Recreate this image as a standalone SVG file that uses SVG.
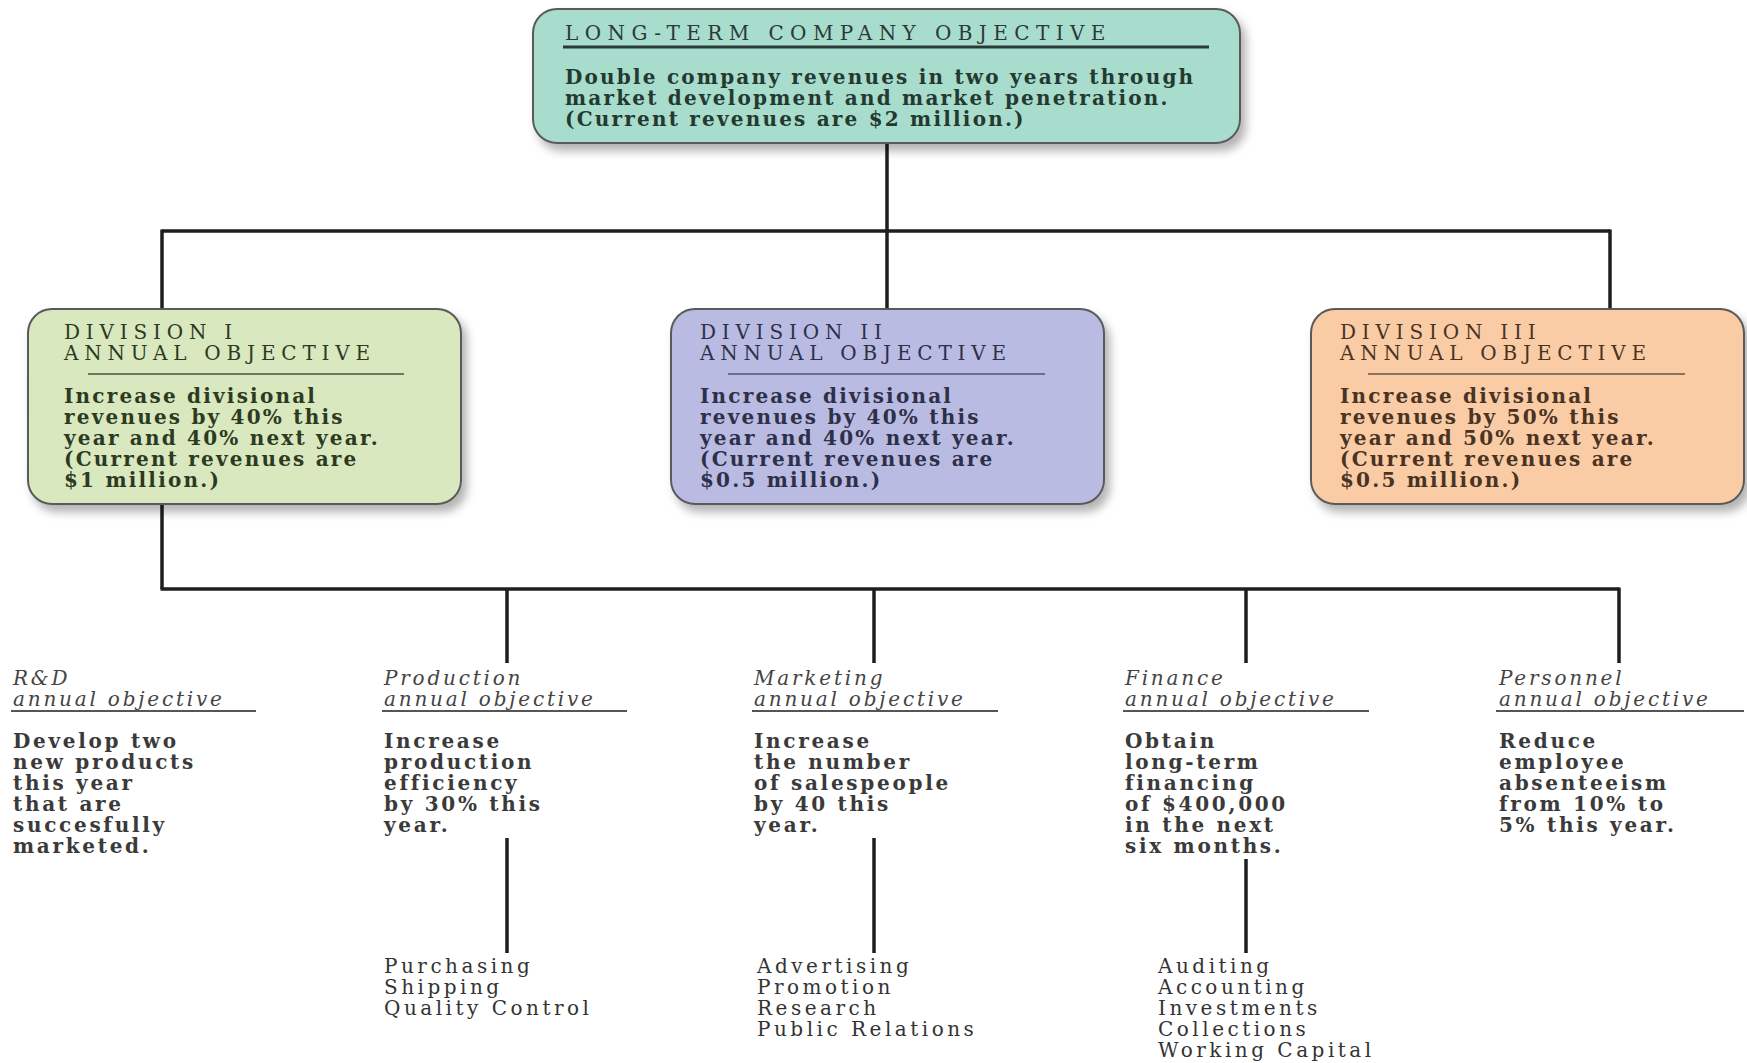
<svg xmlns="http://www.w3.org/2000/svg" width="1747" height="1063" viewBox="0 0 1747 1063">
<defs>
<filter id="sh" x="-10%" y="-10%" width="125%" height="135%">
<feDropShadow dx="5" dy="7" stdDeviation="5" flood-color="#000" flood-opacity="0.3"/>
</filter>
<style>
.box{stroke:#5a5a5a;stroke-width:2}
.hd{font-family:"DejaVu Serif","Liberation Serif",serif;font-size:20px;letter-spacing:5.8px}
.bd{font-family:"DejaVu Serif","Liberation Serif",serif;font-size:20px;font-weight:bold;letter-spacing:2.2px}
.it{font-family:"DejaVu Serif","Liberation Serif",serif;font-size:20px;font-style:italic;letter-spacing:2.8px;fill:#444}
.fb{font-family:"DejaVu Serif","Liberation Serif",serif;font-size:20px;font-weight:bold;letter-spacing:2.7px;fill:#3a3a3a}
.sl{font-family:"DejaVu Serif","Liberation Serif",serif;font-size:20px;letter-spacing:3.5px;fill:#333}
.ul{stroke-width:2}
.cn{stroke:#1e1e1e;stroke-width:3.5;fill:none}
</style>
</defs>
<rect width="1747" height="1063" fill="#ffffff"/>

<g id="connectors">
<line class="cn" x1="887" y1="143" x2="887" y2="231"/>
<line class="cn" x1="162" y1="231" x2="1610" y2="231"/>
<line class="cn" x1="162" y1="229.5" x2="162" y2="309"/>
<line class="cn" x1="887" y1="231" x2="887" y2="309"/>
<line class="cn" x1="1610" y1="229.5" x2="1610" y2="309"/>
<line class="cn" x1="162" y1="504" x2="162" y2="589"/>
<line class="cn" x1="160.5" y1="589" x2="1619" y2="589"/>
<line class="cn" x1="507" y1="589" x2="507" y2="663"/>
<line class="cn" x1="874" y1="589" x2="874" y2="663"/>
<line class="cn" x1="1246" y1="589" x2="1246" y2="663"/>
<line class="cn" x1="1619" y1="587.5" x2="1619" y2="663"/>
<line class="cn" x1="507" y1="838" x2="507" y2="953"/>
<line class="cn" x1="874" y1="838" x2="874" y2="953"/>
<line class="cn" x1="1246" y1="859" x2="1246" y2="953"/>
</g>

<g id="long-term">
<rect class="box" x="533" y="9" width="707" height="134" rx="24" fill="#a8dccd" filter="url(#sh)"/>
<text class="hd" x="565" y="40" fill="#2a3a36" style="letter-spacing:6.4px">LONG-TERM COMPANY OBJECTIVE</text>
<line x1="563" y1="47" x2="1209" y2="47" stroke="#2a3a36" stroke-width="3"/>
<g class="bd" fill="#24392f">
<text x="565" y="84">Double company revenues in two years through</text>
<text x="565" y="105">market development and market penetration.</text>
<text x="565" y="126">(Current revenues are $2 million.)</text>
</g>
</g>

<g id="division-1">
<rect class="box" x="28" y="309" width="433" height="195" rx="24" fill="#d9e8bf" filter="url(#sh)"/>
<text class="hd" x="64" y="339" fill="#2c3a22">DIVISION  I</text>
<text class="hd" x="64" y="360" fill="#2c3a22">ANNUAL OBJECTIVE</text>
<line class="ul" x1="88" y1="374" x2="404" y2="374" stroke="#6d7a60"/>
<g class="bd" fill="#2c3a22">
<text x="64" y="403">Increase divisional</text>
<text x="64" y="424">revenues by 40% this</text>
<text x="64" y="445">year and 40% next year.</text>
<text x="64" y="466">(Current revenues are</text>
<text x="64" y="487">$1 million.)</text>
</g>
</g>

<g id="division-2">
<rect class="box" x="671" y="309" width="433" height="195" rx="24" fill="#b9bbe2" filter="url(#sh)"/>
<text class="hd" x="700" y="339" fill="#2e2f48">DIVISION  II</text>
<text class="hd" x="700" y="360" fill="#2e2f48">ANNUAL OBJECTIVE</text>
<line class="ul" x1="728" y1="374" x2="1045" y2="374" stroke="#6a6c8c"/>
<g class="bd" fill="#2e2f48">
<text x="700" y="403">Increase divisional</text>
<text x="700" y="424">revenues by 40% this</text>
<text x="700" y="445">year and 40% next year.</text>
<text x="700" y="466">(Current revenues are</text>
<text x="700" y="487">$0.5 million.)</text>
</g>
</g>

<g id="division-3">
<rect class="box" x="1311" y="309" width="433" height="195" rx="24" fill="#f9cca6" filter="url(#sh)"/>
<text class="hd" x="1340" y="339" fill="#4a3322">DIVISION  III</text>
<text class="hd" x="1340" y="360" fill="#4a3322">ANNUAL OBJECTIVE</text>
<line class="ul" x1="1368" y1="374" x2="1685" y2="374" stroke="#8a7260"/>
<g class="bd" fill="#4a3322">
<text x="1340" y="403">Increase divisional</text>
<text x="1340" y="424">revenues by 50% this</text>
<text x="1340" y="445">year and 50% next year.</text>
<text x="1340" y="466">(Current revenues are</text>
<text x="1340" y="487">$0.5 million.)</text>
</g>
</g>

<g id="rd">
<text class="it" x="13" y="685">R&amp;D</text>
<text class="it" x="13" y="706">annual objective</text>
<line class="ul" x1="11" y1="711" x2="256" y2="711" stroke="#555"/>
<g class="fb">
<text x="13" y="748">Develop two</text>
<text x="13" y="769">new products</text>
<text x="13" y="790">this year</text>
<text x="13" y="811">that are</text>
<text x="13" y="832">succesfully</text>
<text x="13" y="853">marketed.</text>
</g>
</g>

<g id="production">
<text class="it" x="384" y="685">Production</text>
<text class="it" x="384" y="706">annual objective</text>
<line class="ul" x1="382" y1="711" x2="627" y2="711" stroke="#555"/>
<g class="fb">
<text x="384" y="748">Increase</text>
<text x="384" y="769">production</text>
<text x="384" y="790">efficiency</text>
<text x="384" y="811">by 30% this</text>
<text x="384" y="832">year.</text>
</g>
</g>

<g id="marketing">
<text class="it" x="754" y="685">Marketing</text>
<text class="it" x="754" y="706">annual objective</text>
<line class="ul" x1="752" y1="711" x2="998" y2="711" stroke="#555"/>
<g class="fb">
<text x="754" y="748">Increase</text>
<text x="754" y="769">the number</text>
<text x="754" y="790">of salespeople</text>
<text x="754" y="811">by 40 this</text>
<text x="754" y="832">year.</text>
</g>
</g>

<g id="finance">
<text class="it" x="1125" y="685">Finance</text>
<text class="it" x="1125" y="706">annual objective</text>
<line class="ul" x1="1123" y1="711" x2="1369" y2="711" stroke="#555"/>
<g class="fb">
<text x="1125" y="748">Obtain</text>
<text x="1125" y="769">long-term</text>
<text x="1125" y="790">financing</text>
<text x="1125" y="811">of $400,000</text>
<text x="1125" y="832">in the next</text>
<text x="1125" y="853">six months.</text>
</g>
</g>

<g id="personnel">
<text class="it" x="1499" y="685">Personnel</text>
<text class="it" x="1499" y="706">annual objective</text>
<line class="ul" x1="1496" y1="711" x2="1744" y2="711" stroke="#555"/>
<g class="fb">
<text x="1499" y="748">Reduce</text>
<text x="1499" y="769">employee</text>
<text x="1499" y="790">absenteeism</text>
<text x="1499" y="811">from 10% to</text>
<text x="1499" y="832">5% this year.</text>
</g>
</g>

<g id="production-units" class="sl">
<text x="384" y="973">Purchasing</text>
<text x="384" y="994">Shipping</text>
<text x="384" y="1015">Quality Control</text>
</g>

<g id="marketing-units" class="sl">
<text x="757" y="973">Advertising</text>
<text x="757" y="994">Promotion</text>
<text x="757" y="1015">Research</text>
<text x="757" y="1036">Public Relations</text>
</g>

<g id="finance-units" class="sl">
<text x="1158" y="973">Auditing</text>
<text x="1158" y="994">Accounting</text>
<text x="1158" y="1015">Investments</text>
<text x="1158" y="1036">Collections</text>
<text x="1158" y="1057">Working Capital</text>
</g>
</svg>
